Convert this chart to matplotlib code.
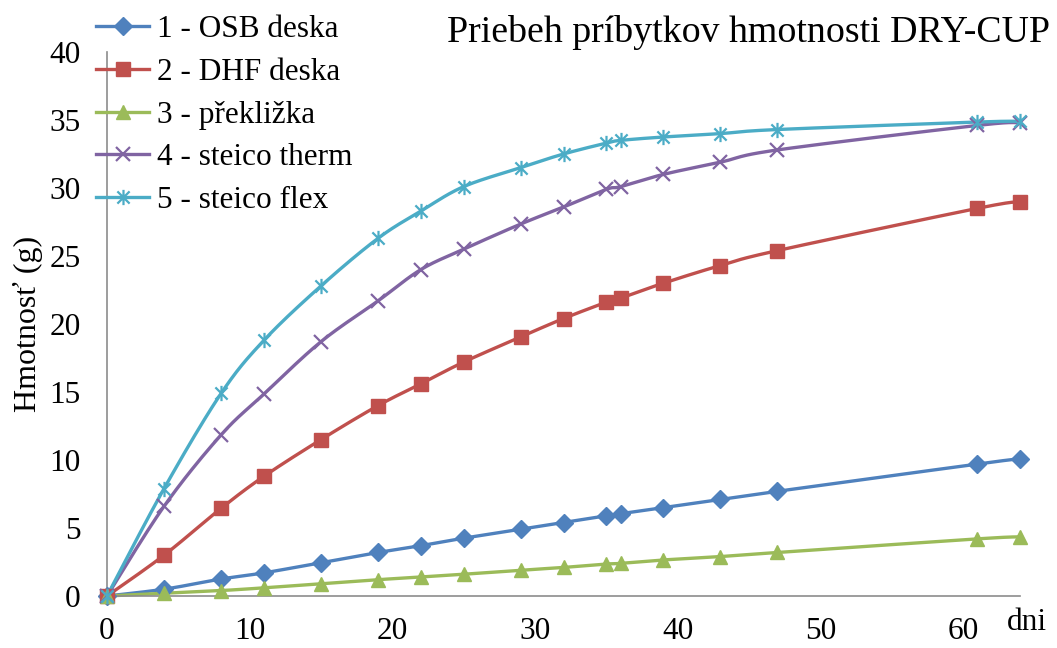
import numpy as np
import matplotlib
matplotlib.use("Agg")
import matplotlib.pyplot as plt
from matplotlib.path import Path
from matplotlib.lines import Line2D

# --- data -----------------------------------------------------------------
days = [0, 4, 8, 11, 15, 19, 22, 25, 29, 32, 35, 36, 39, 43, 47, 61, 64]

osb = [0, 0.5, 1.25, 1.7, 2.45, 3.2, 3.7, 4.25, 4.9, 5.4, 5.9, 6.05, 6.5, 7.1, 7.7, 9.7, 10.1]
dhf = [0, 3.0, 6.45, 8.8, 11.5, 14.0, 15.6, 17.2, 19.05, 20.4, 21.6, 21.9, 23.0, 24.3, 25.4, 28.5, 29.0]
preklizka = [0, 0.2, 0.4, 0.6, 0.9, 1.2, 1.4, 1.6, 1.9, 2.1, 2.35, 2.4, 2.65, 2.9, 3.2, 4.2, 4.35]
steico_therm = [0, 6.6, 11.85, 14.85, 18.7, 21.7, 24.0, 25.5, 27.35, 28.6, 29.9, 30.1, 31.0, 31.9, 32.8, 34.6, 34.8]
steico_flex = [0, 7.9, 14.9, 18.8, 22.8, 26.3, 28.3, 30.1, 31.5, 32.5, 33.3, 33.5, 33.75, 34.0, 34.3, 34.85, 34.9]

labels = ["1 - OSB deska", "2 - DHF deska", "3 - překližka",
          "4 - steico therm", "5 - steico flex"]

title = "Priebeh príbytkov hmotnosti DRY-CUP"
ylabel = "Hmotnosť (g)"
xlabel = "dni"
xticks = [0, 10, 20, 30, 40, 50, 60]
yticks = [0, 5, 10, 15, 20, 25, 30, 35, 40]

# --- styling ----------------------------------------------------------------
colors = ["#4F81BD", "#C0504D", "#9BBB59", "#8064A2", "#4BACC6"]

# asterisk marker: vertical stroke plus an "x"
star_path = Path(
    [(0, -1), (0, 1), (-0.8, -0.8), (0.8, 0.8), (-0.8, 0.8), (0.8, -0.8)],
    [Path.MOVETO, Path.LINETO, Path.MOVETO, Path.LINETO, Path.MOVETO, Path.LINETO],
)

marker_styles = [
    dict(marker="D", markersize=9, markerfacecolor=colors[0], markeredgecolor=colors[0]),
    dict(marker="s", markersize=10.5, markerfacecolor=colors[1], markeredgecolor=colors[1]),
    dict(marker="^", markersize=10.5, markerfacecolor=colors[2], markeredgecolor=colors[2]),
    dict(marker="x", markersize=10, markeredgewidth=1.6, markeredgecolor=colors[3]),
    dict(marker=star_path, markersize=11, markeredgewidth=1.6,
         markerfacecolor="none", markeredgecolor=colors[4]),
]

plt.rcParams["font.family"] = ["Liberation Serif", "DejaVu Serif"]
FS = 22.5


def smooth(x, y, n=24):
    """Piecewise cubic Bezier through the points (Catmull-Rom style tangents)."""
    p = np.column_stack([x, y]).astype(float)
    pts = [p[0]]
    t = np.linspace(0, 1, n)[1:]
    for i in range(len(p) - 1):
        p0 = p[i - 1] if i > 0 else p[i]
        p1, p2 = p[i], p[i + 1]
        p3 = p[i + 2] if i + 2 < len(p) else p[i + 1]
        c1 = p1 + (p2 - p0) / 6.0
        c2 = p2 - (p3 - p1) / 6.0
        seg = ((1 - t) ** 3)[:, None] * p1 + (3 * (1 - t) ** 2 * t)[:, None] * c1 \
            + (3 * (1 - t) * t ** 2)[:, None] * c2 + (t ** 3)[:, None] * p2
        pts.extend(seg)
    pts = np.array(pts)
    return pts[:, 0], pts[:, 1]


W, H = 1057, 648
fig = plt.figure(figsize=(W / 100, H / 100), dpi=100)
ax = fig.add_axes([107 / W, 1 - 596 / H, (1020 - 107) / W, (596 - 52) / H])

series = [osb, dhf, preklizka, steico_therm, steico_flex]
handles = []
for vals, col, ms in zip(series, colors, marker_styles):
    sx, sy = smooth(days, vals)
    ax.plot(sx, sy, color=col, lw=2.4, solid_capstyle="round", clip_on=False, zorder=2)
    ax.plot(days, vals, linestyle="none", clip_on=False, zorder=3, **ms)
    handles.append(Line2D([0], [0], color=col, lw=2.4, **ms))

ax.set_xlim(0, 64)
ax.set_ylim(0, 40)
ax.set_xticks(xticks)
ax.set_yticks(yticks)
ax.tick_params(length=0, labelsize=FS, colors="black")
ax.tick_params(axis="x", pad=15)
ax.tick_params(axis="y", pad=19)
for s in ["top", "right"]:
    ax.spines[s].set_visible(False)
for s in ["left", "bottom"]:
    ax.spines[s].set_color("#8C8C8C")
    ax.spines[s].set_linewidth(1.2)

fig.text(1050 / W, 1 - 32 / H, title, ha="right", va="center", fontsize=27.3)
fig.text(28 / W, 1 - 324 / H, ylabel, ha="center", va="center", rotation=90, fontsize=23)
fig.text(1007 / W, 1 - 623 / H, xlabel, ha="left", va="center", fontsize=FS)

fig.legend(handles, labels, loc="upper left", bbox_to_anchor=(96 / W, 1 - 15 / H),
           frameon=False, fontsize=FS, handlelength=1.7, handletextpad=0.25,
           labelspacing=0.44, borderpad=0, borderaxespad=0)

fig.savefig("out.png", dpi=100)
